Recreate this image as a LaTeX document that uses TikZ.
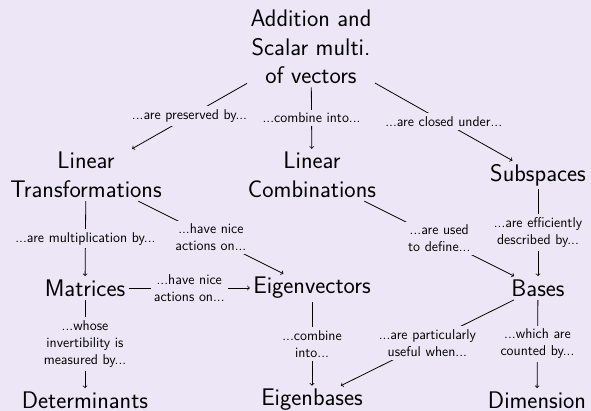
\documentclass[tikz,border=0pt]{standalone}
\usepackage{tikz}
\definecolor{slidebg}{RGB}{237,230,246}
\begin{document}
\begin{tikzpicture}[x=1pt,y=-1pt,
  concept/.style={font=\sffamily\fontsize{24}{28.5}\selectfont,align=center},
  link/.style={font=\sffamily\fontsize{14.2}{17}\selectfont,align=center,fill=slidebg},
  rel/.style={->,line width=0.8pt}]
\fill[slidebg] (0,0) rectangle (591,411);
\useasboundingbox (0,0) rectangle (591,411);
\node[concept] (vec) at (311,47) {Addition and\\Scalar multi.\\of vectors};
\node[concept] (lt) at (86,175) {Linear\\Transformations};
\node[concept] (lc) at (312,175) {Linear\\Combinations};
\node[concept] (sub) at (538,175) {Subspaces};
\node[concept] (mat) at (85,288) {Matrices};
\node[concept] (eig) at (312,288) {Eigenvectors};
\node[concept] (bas) at (538,288) {Bases};
\node[concept] (det) at (85,400) {Determinants};
\node[concept] (eb) at (312,400) {Eigenbases};
\node[concept] (dim) at (537,400) {Dimension};
\draw[rel] (vec) -- node[link] {...are preserved by...} (lt);
\draw[rel] (vec) -- node[link] {...combine into...} (lc);
\draw[rel] (vec) -- node[link] {...are closed under...} (sub);
\draw[rel] (lt) -- node[link] {...are multiplication by...} (mat);
\draw[rel] (lt) -- node[link] {...have nice\\actions on...} (eig);
\draw[rel] (lc) -- node[link] {...are used\\to define...} (bas);
\draw[rel] (sub) -- node[link] {...are efficiently\\described by...} (bas);
\draw[rel] (mat) -- node[link] {...have nice\\actions on...} (eig);
\draw[rel] (mat) -- node[link] {...whose\\invertibility is\\measured by...} (det);
\draw[rel] (eig) -- node[link] {...combine\\into...} (eb);
\draw[rel] (bas) -- node[link] {...are particularly\\useful when...} (eb);
\draw[rel] (bas) -- node[link] {...which are\\counted by...} (dim);
\end{tikzpicture}
\end{document}
